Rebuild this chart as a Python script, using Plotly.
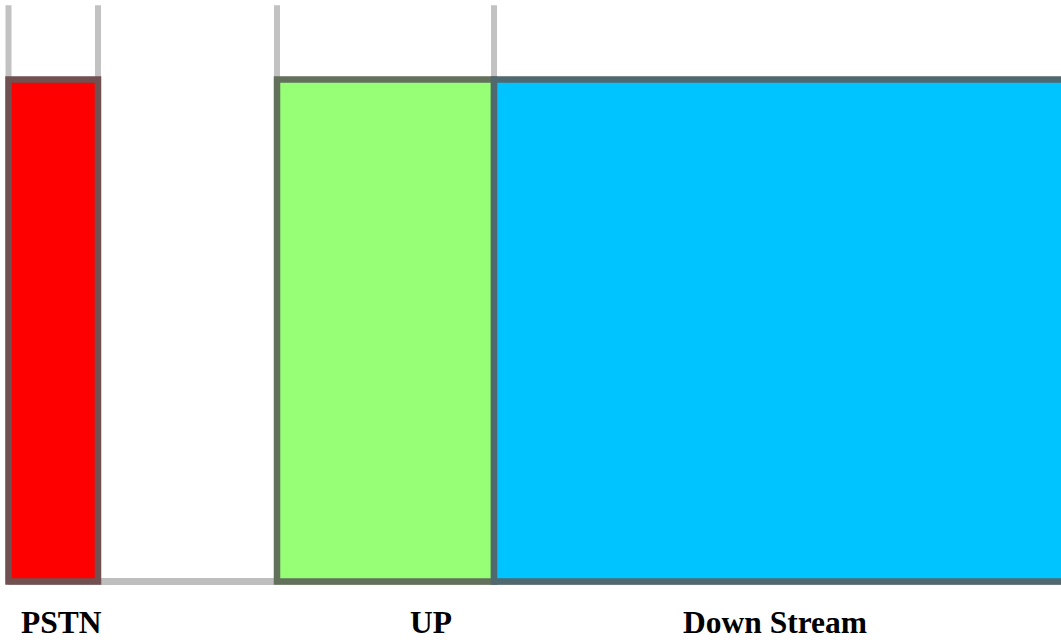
import plotly.graph_objects as go

# Frequency bands (arbitrary frequency units)
band_names = ["PSTN", "UP", "Down Stream"]
band_start = [0, 12, 21.7]
band_end = [4, 21.7, 48]
band_level = [1, 1, 1]
band_fill = ["#FF0000", "#96FF75", "#00C4FF"]
band_edge = ["#705050", "#62705C", "#50686F"]

# Boundary markers (gray guide lines)
boundaries = [0, 4, 12, 21.7]
guide_top = 1.148

# Label positions along the frequency axis
label_x = [2.35, 18.88, 34.26]
label_y = -0.081

fig = go.Figure()

centers = [(s + e) / 2 for s, e in zip(band_start, band_end)]
widths = [e - s for s, e in zip(band_start, band_end)]
fig.add_trace(go.Bar(x=centers, y=band_level, width=widths, base=0,
                     marker=dict(color=band_fill,
                                 line=dict(color=band_edge, width=6.5)),
                     showlegend=False, hoverinfo="skip"))

# gray guides under the bars
for b in boundaries:
    fig.add_shape(type="line", xref="x", yref="y", x0=b, x1=b, y0=0, y1=guide_top,
                  line=dict(color="#c2c2c2", width=6), layer="below")
fig.add_shape(type="line", xref="x", yref="y", x0=boundaries[0], x1=band_end[-1],
              y0=0, y1=0, line=dict(color="#bebebe", width=7), layer="below")

for name, lx in zip(band_names, label_x):
    fig.add_annotation(x=lx, y=label_y, xref="x", yref="y", text=f"<b>{name}</b>",
                       showarrow=False, xanchor="center", yanchor="middle",
                       font=dict(family="Liberation Serif", size=31.5, color="black"))

fig.update_layout(
    width=1061, height=640,
    margin=dict(l=0, r=0, t=0, b=0),
    paper_bgcolor="white", plot_bgcolor="white",
    xaxis=dict(range=[-0.38, 47.04], visible=False, fixedrange=True),
    yaxis=dict(range=[-0.1165, 1.1584], visible=False, fixedrange=True),
    barmode="overlay",
)

fig.write_html("out.html", config={"displayModeBar": False},
               post_script="document.body.style.margin='0';")
